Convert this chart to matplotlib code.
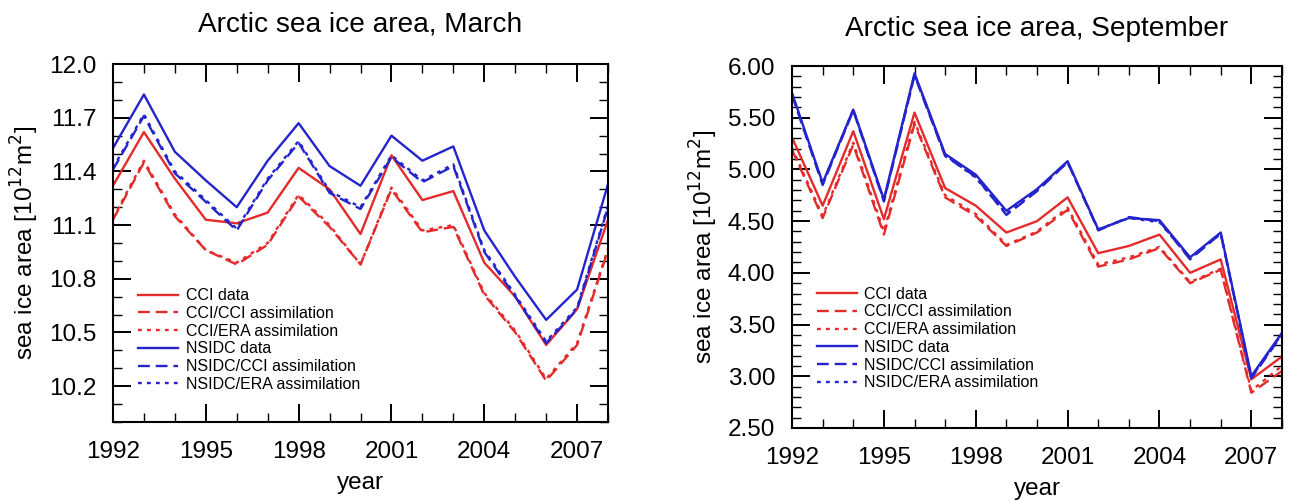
import numpy as np
import matplotlib
matplotlib.use("Agg")
import matplotlib.pyplot as plt
from matplotlib.ticker import MultipleLocator, FormatStrFormatter

plt.rcParams['font.family'] = ['Liberation Sans', 'DejaVu Sans']

years = list(range(1992, 2009))

# March sea ice area [10^12 m^2]
mar_cci_data = [11.32, 11.62, 11.36, 11.13, 11.11, 11.17, 11.42, 11.30, 11.05,
                11.49, 11.24, 11.29, 10.89, 10.70, 10.43, 10.63, 11.13]
mar_cci_cci = [11.13, 11.45, 11.15, 10.96, 10.88, 10.99, 11.26, 11.09, 10.88,
               11.30, 11.06, 11.09, 10.71, 10.50, 10.23, 10.43, 10.96]
mar_cci_era = [11.14, 11.46, 11.16, 10.96, 10.89, 11.00, 11.27, 11.10, 10.88,
               11.31, 11.07, 11.10, 10.72, 10.51, 10.24, 10.44, 10.97]
mar_nsidc_data = [11.53, 11.83, 11.51, 11.35, 11.20, 11.46, 11.67, 11.43, 11.32,
                  11.60, 11.46, 11.54, 11.07, 10.81, 10.57, 10.74, 11.33]
mar_nsidc_cci = [11.41, 11.71, 11.39, 11.23, 11.07, 11.35, 11.56, 11.28, 11.19,
                 11.48, 11.34, 11.43, 10.95, 10.70, 10.44, 10.63, 11.20]
mar_nsidc_era = [11.42, 11.72, 11.40, 11.24, 11.08, 11.36, 11.57, 11.29, 11.20,
                 11.49, 11.35, 11.44, 10.96, 10.71, 10.45, 10.64, 11.21]

# September sea ice area [10^12 m^2]
sep_cci_data = [5.31, 4.65, 5.37, 4.52, 5.55, 4.82, 4.65, 4.39, 4.50,
                4.73, 4.19, 4.26, 4.37, 4.00, 4.13, 2.97, 3.19]
sep_cci_cci = [5.19, 4.53, 5.24, 4.37, 5.44, 4.73, 4.55, 4.26, 4.39,
               4.61, 4.06, 4.13, 4.24, 3.90, 4.03, 2.84, 3.05]
sep_cci_era = [5.21, 4.55, 5.26, 4.40, 5.46, 4.75, 4.57, 4.27, 4.40,
               4.63, 4.08, 4.15, 4.25, 3.91, 4.04, 2.86, 3.10]
sep_nsidc_data = [5.74, 4.87, 5.58, 4.71, 5.93, 5.15, 4.95, 4.60, 4.81,
                  5.08, 4.42, 4.53, 4.51, 4.15, 4.39, 3.00, 3.42]
sep_nsidc_cci = [5.72, 4.85, 5.57, 4.69, 5.91, 5.13, 4.93, 4.56, 4.79,
                 5.07, 4.41, 4.54, 4.50, 4.13, 4.38, 2.98, 3.40]
sep_nsidc_era = [5.73, 4.86, 5.58, 4.70, 5.92, 5.14, 4.92, 4.57, 4.80,
                 5.07, 4.42, 4.53, 4.49, 4.14, 4.38, 2.99, 3.41]

labels = ["CCI data", "CCI/CCI assimilation", "CCI/ERA assimilation",
          "NSIDC data", "NSIDC/CCI assimilation", "NSIDC/ERA assimilation"]

RED = "#e52a2a"
BLUE = "#2424cc"
styles = [(RED, "-"), (RED, (0, (5, 2.5))), (RED, (0, (1.6, 2.2))),
          (BLUE, "-"), (BLUE, (0, (5, 2.5))), (BLUE, (0, (1.6, 2.2)))]

fig = plt.figure(figsize=(12.91, 5.01), dpi=100)
ax1 = fig.add_axes([0.0875, 0.158, 0.3835, 0.714])
ax2 = fig.add_axes([0.6135, 0.146, 0.3795, 0.722])

panels = [
    (ax1, "Arctic sea ice area, March",
     [mar_cci_data, mar_cci_cci, mar_cci_era, mar_nsidc_data, mar_nsidc_cci, mar_nsidc_era],
     (10.0, 12.0), 0.3, 10.2, "%.1f", (0.045, 0.075), 23.5),
    (ax2, "Arctic sea ice area, September",
     [sep_cci_data, sep_cci_cci, sep_cci_era, sep_nsidc_data, sep_nsidc_cci, sep_nsidc_era],
     (2.5, 6.0), 0.5, 2.5, "%.2f", (0.045, 0.095), 22.0),
]

for ax, title, series, ylim, ymaj, ystart, fmt, legpos, tpad in panels:
    for vals, (col, ls), lab in zip(series, styles, labels):
        ax.plot(years, vals, color=col, linestyle=ls, lw=1.7, label=lab)
    ax.set_xlim(1992, 2008)
    ax.set_ylim(*ylim)
    ax.set_xticks(range(1992, 2009, 3))
    ax.xaxis.set_minor_locator(MultipleLocator(1))
    ax.set_yticks(np.arange(ystart, ylim[1] + 1e-9, ymaj))
    ax.yaxis.set_minor_locator(MultipleLocator(0.1))
    ax.yaxis.set_major_formatter(FormatStrFormatter(fmt))
    ax.tick_params(which="both", direction="in", top=True, right=True,
                   labelsize=17.5)
    ax.tick_params(which="major", length=13, width=1.4, pad=12)
    ax.tick_params(which="minor", length=6.5, width=1.0)
    ax.tick_params(axis="x", which="major", pad=14)
    for sp in ax.spines.values():
        sp.set_linewidth(1.5)
    ax.set_title(title, fontsize=20.2, pad=tpad)
    ax.set_xlabel("year", fontsize=17.5, labelpad=6)
    ax.set_ylabel("sea ice area [10$^{12}$m$^2$]", fontsize=17.5, labelpad=6)
    ax.legend(loc="lower left", bbox_to_anchor=legpos, frameon=False,
              fontsize=11.5, handlelength=2.5, handletextpad=0.45,
              labelspacing=0.17, borderpad=0.2, borderaxespad=0)

fig.savefig("out.png", dpi=100)
